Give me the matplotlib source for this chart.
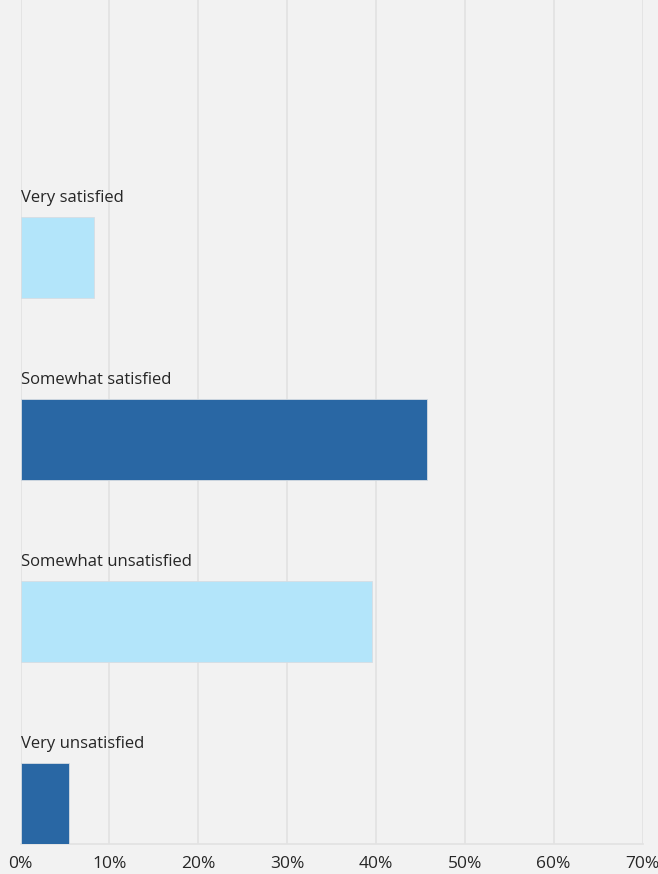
import matplotlib.pyplot as plt

categories = ["Very satisfied", "Somewhat satisfied", "Somewhat unsatisfied", "Very unsatisfied"]
values = [8.3, 45.8, 39.6, 5.5]
bar_colors = ["#b3e5fa", "#2967a4", "#b3e5fa", "#2967a4"]
tick_values = [0, 10, 20, 30, 40, 50, 60, 70]
tick_labels = ["0%", "10%", "20%", "30%", "40%", "50%", "60%", "70%"]

plt.rcParams['font.family'] = ['Open Sans', 'DejaVu Sans']

bg = "#f2f2f2"
fig = plt.figure(figsize=(6.58, 8.74), dpi=100, facecolor=bg)
ax = fig.add_axes([20.5 / 658, 30 / 874, 622 / 658, 844 / 874])
ax.set_facecolor(bg)

bar_h = 0.445
pos = list(range(len(categories)))
ax.barh(pos, values, height=bar_h, color=bar_colors, edgecolor="#d6dde3", linewidth=0.6, zorder=3)

for y, label in zip(pos, categories):
    ax.text(0.02, y - 0.325, label, ha="left", va="center", fontsize=12, color="#262626")

ax.set_xlim(0, 70)
ax.set_ylim(3 + bar_h / 2, 3 + bar_h / 2 - 844 / 182)
ax.set_xticks(tick_values)
ax.set_xticklabels(tick_labels, fontsize=12.5, color="#262626")
ax.set_yticks([])
ax.tick_params(axis="x", length=0, pad=9)
ax.grid(axis="x", color="#e2e2e2", linewidth=1.2, zorder=0)

for s in ["top", "right", "left"]:
    ax.spines[s].set_visible(False)
ax.spines["bottom"].set_color("#e2e2e2")
ax.spines["bottom"].set_linewidth(1.2)

fig.savefig("out.png", dpi=100, facecolor=bg)
